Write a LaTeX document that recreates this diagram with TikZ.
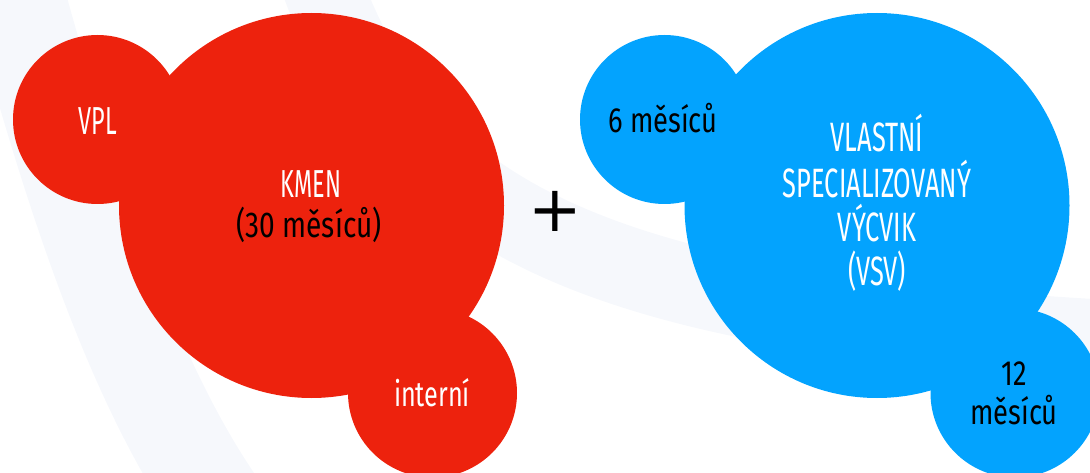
\documentclass[tikz,border=0pt]{standalone}
\usepackage{fontspec}
\newfontfamily\capsfont[FakeStretch=0.6]{Fira Sans}
\newfontfamily\bluecapsfont[FakeStretch=0.62]{Fira Sans}
\newfontfamily\lowfont[FakeStretch=0.72]{Fira Sans}
\newfontfamily\darkfont[FakeStretch=0.78]{Fira Sans}
\newfontfamily\plusfont{DejaVu Sans}
\definecolor{kred}{RGB}{237,34,13}
\definecolor{vblue}{RGB}{3,163,254}
\definecolor{bandc}{RGB}{246,248,252}
\begin{document}
\begin{tikzpicture}[x=1pt,y=-1pt,
  bigblob/.style={circle,inner sep=0pt,minimum size=385pt},
  smallblob/.style={circle,inner sep=0pt,minimum size=169pt},
  wtext/.style={text=white,inner sep=0pt,anchor=base,font=\capsfont\fontsize{39}{45}\selectfont},
  wbtext/.style={text=white,inner sep=0pt,anchor=base,font=\bluecapsfont\fontsize{41}{45}\selectfont},
  wlow/.style={text=white,inner sep=0pt,anchor=base,font=\lowfont\fontsize{35}{40}\selectfont},
  btext/.style={text=black,inner sep=0pt,anchor=base,font=\darkfont\fontsize{35}{40}\selectfont},
  band/.style={draw=bandc,line width=#1}]
\useasboundingbox (0,0) rectangle (1090,473);
\begin{scope}
\clip (0,0) rectangle (1090,473);
% faint background arcs
\draw[band=95pt] (10,-30) .. controls (60,150) and (120,360) .. (215,500);
\draw[band=80pt] (320,-20) .. controls (400,200) and (560,310) .. (1110,340);
% red group
\node[bigblob,fill=kred] (kmenc) at (311.5,205.5) {};
\node[smallblob,fill=kred] (vplc) at (97.5,119.5) {};
\node[smallblob,fill=kred] (intc) at (432.5,393) {};
% blue group
\node[bigblob,fill=vblue] (vsvc) at (877,205.5) {};
\node[smallblob,fill=vblue] (sixc) at (664.5,119.5) {};
\node[smallblob,fill=vblue] (twelvec) at (1015,393) {};
\end{scope}
% texts
\node[wtext] (vpl) at (98,135) {VPL};
\node[wtext] (kmen) at (311,198) {KMEN};
\node[btext,font=\darkfont\fontsize{36}{40}\selectfont] (kmenm) at (309,238) {(30 měsíců)};
\node[wlow] (int) at (432,406) {interní};
\node[btext] (six) at (663,133) {6 měsíců};
\node[wbtext] (v1) at (877,152) {VLASTNÍ};
\node[wbtext] (v2) at (877,198) {SPECIALIZOVANÝ};
\node[wbtext] (v3) at (877,242) {VÝCVIK};
\node[wbtext] (v4) at (877,286) {(VSV)};
\node[btext] (tw1) at (1014,385) {12};
\node[btext] (tw2) at (1014,424) {měsíců};
\node[font=\plusfont\fontsize{64}{64}\selectfont,inner sep=0pt] (plus) at (555.5,211) {+};
\end{tikzpicture}
\end{document}
